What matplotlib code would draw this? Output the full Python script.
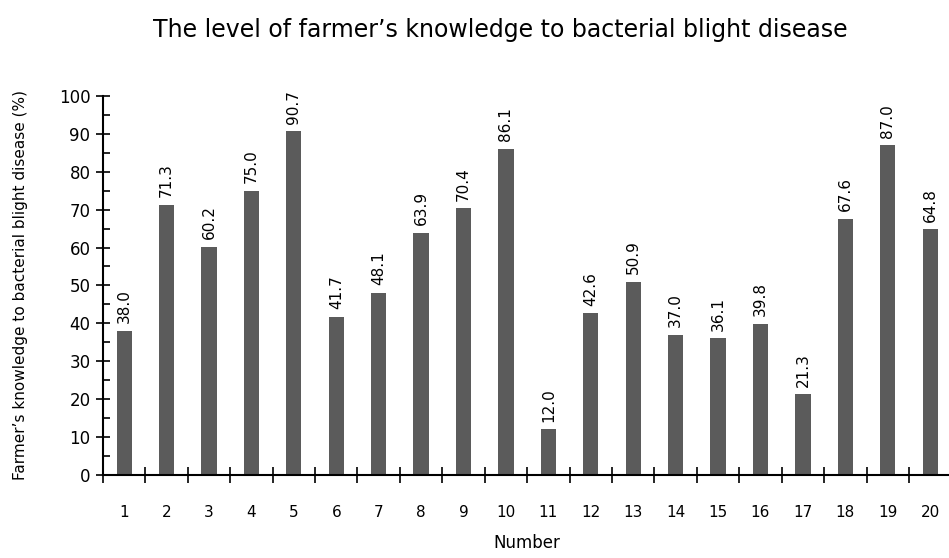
import numpy as np
import matplotlib.pyplot as plt
from matplotlib.ticker import MultipleLocator

numbers = list(range(1, 21))
knowledge = [38.0, 71.3, 60.2, 75.0, 90.7, 41.7, 48.1, 63.9, 70.4, 86.1,
             12.0, 42.6, 50.9, 37.0, 36.1, 39.8, 21.3, 67.6, 87.0, 64.8]

plt.rcParams['font.family'] = ['DejaVu Sans']

fig = plt.figure(figsize=(9.49, 5.58), dpi=100)
ax = fig.add_axes([0.1085, 0.149, 0.894, 0.679])

x = np.array(numbers)
ax.bar(x, knowledge, width=0.36, color='#5b5b5b')
for xi, v in zip(x, knowledge):
    ax.text(xi, v + 2, "%.1f" % v, rotation=90, ha='center', va='bottom', fontsize=11)

ax.set_xlim(0.5, 20.5)
ax.set_ylim(0, 100)

# y axis: major ticks crossing, minor ticks inside
ax.yaxis.set_major_locator(MultipleLocator(10))
ax.yaxis.set_minor_locator(MultipleLocator(5))
ax.tick_params(axis='y', which='major', direction='inout', length=10, width=1.2, labelsize=12, pad=4)
ax.tick_params(axis='y', which='minor', direction='in', length=5, width=1.2)

# x axis: tick marks between categories, labels at the centres
ax.set_xticks(np.arange(0.5, 20.5, 1.0))
ax.set_xticklabels([])
ax.set_xticks(x, minor=True)
ax.set_xticklabels([str(n) for n in numbers], minor=True, fontsize=11)
ax.tick_params(axis='x', which='major', direction='inout', length=12, width=1.2)
ax.tick_params(axis='x', which='minor', length=0, pad=22)

for s in ['top', 'right']:
    ax.spines[s].set_visible(False)
ax.spines['left'].set_linewidth(1.5)
ax.spines['bottom'].set_linewidth(1.5)

fig.text(0.527, 0.946, "The level of farmer\u2019s knowledge to bacterial blight disease",
         fontsize=17, ha='center', va='center')
ax.set_xlabel("Number", fontsize=12, labelpad=10)
ax.set_ylabel("Farmer\u2019s knowledge to bacterial blight disease (%)", fontsize=11, labelpad=22)

fig.savefig("out.png", dpi=100)
